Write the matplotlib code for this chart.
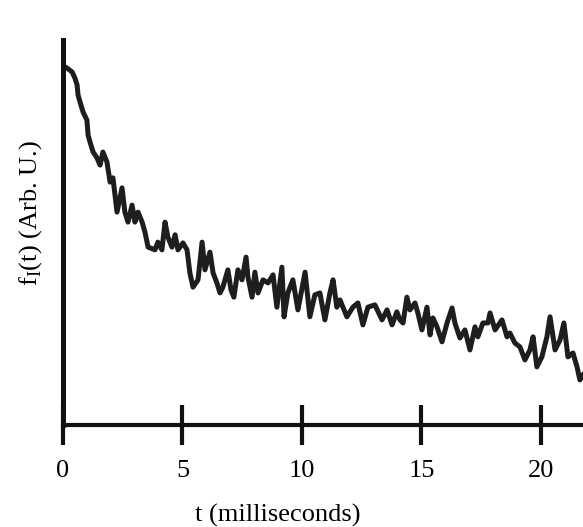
import matplotlib
matplotlib.use("Agg")
import matplotlib.pyplot as plt

# trace (t in ms, f in arbitrary units)
t_ms = [0.04, 0.17, 0.38, 0.50, 0.59, 0.63, 0.75, 0.84, 1.00, 1.05,
        1.13, 1.26, 1.42, 1.55, 1.67, 1.84, 1.97, 2.09, 2.26, 2.47,
        2.59, 2.72, 2.89, 3.01, 3.14, 3.31, 3.43, 3.56, 3.85, 3.97,
        4.14, 4.27, 4.39, 4.56, 4.69, 4.81, 5.02, 5.19, 5.31, 5.44,
        5.65, 5.82, 5.94, 6.15, 6.28, 6.44, 6.57, 6.69, 6.90, 7.03,
        7.15, 7.32, 7.49, 7.66, 7.74, 7.91, 8.03, 8.16, 8.37, 8.58,
        8.79, 8.95, 9.16, 9.25, 9.41, 9.62, 9.83, 10.13, 10.33, 10.54,
        10.75, 10.96, 11.17, 11.30, 11.46, 11.59, 11.88, 12.13, 12.34, 12.55,
        12.76, 13.05, 13.35, 13.56, 13.77, 13.97, 14.10, 14.23, 14.39, 14.52,
        14.73, 14.85, 15.02, 15.23, 15.36, 15.48, 15.65, 15.86, 16.07, 16.28,
        16.40, 16.61, 16.82, 17.03, 17.24, 17.36, 17.57, 17.78, 17.87, 18.08,
        18.37, 18.58, 18.70, 18.91, 19.12, 19.33, 19.54, 19.67, 19.83, 20.04,
        20.25, 20.38, 20.59, 20.80, 20.96, 21.13, 21.34, 21.51, 21.63, 21.76]
f_val = [9.32, 9.27, 9.17, 9.01, 8.83, 8.57, 8.31, 8.13, 7.92, 7.53,
         7.35, 7.09, 6.94, 6.75, 7.09, 6.83, 6.31, 6.42, 5.53, 6.16,
         5.53, 5.27, 5.71, 5.27, 5.53, 5.27, 5.01, 4.62, 4.55, 4.75,
         4.55, 5.27, 4.88, 4.62, 4.94, 4.55, 4.73, 4.55, 3.95, 3.58,
         3.77, 4.75, 4.03, 4.49, 3.95, 3.69, 3.43, 3.58, 4.03, 3.51,
         3.32, 4.03, 3.77, 4.36, 3.84, 3.32, 3.97, 3.43, 3.77, 3.69,
         3.90, 3.06, 4.10, 2.81, 3.43, 3.77, 2.99, 3.97, 2.81, 3.38,
         3.43, 2.73, 3.43, 3.77, 3.06, 3.25, 2.81, 3.06, 3.17, 2.60,
         3.06, 3.12, 2.73, 2.99, 2.60, 2.94, 2.73, 2.65, 3.32, 2.99,
         3.17, 2.91, 2.47, 3.06, 2.34, 2.78, 2.55, 2.16, 2.65, 3.04,
         2.65, 2.26, 2.47, 1.95, 2.55, 2.29, 2.65, 2.65, 2.91, 2.47,
         2.73, 2.29, 2.39, 2.13, 2.03, 1.69, 1.95, 2.29, 1.51, 1.77,
         2.29, 2.81, 1.95, 2.21, 2.65, 1.77, 1.87, 1.51, 1.17, 1.30]
x_ticks = [0, 5, 10, 15, 20]

plt.rcParams['font.family'] = ['Liberation Serif', 'DejaVu Serif']
plt.rcParams['mathtext.fontset'] = 'custom'
plt.rcParams['mathtext.rm'] = 'Liberation Serif'

fig = plt.figure(figsize=(5.83, 5.27), dpi=100)
ax = fig.add_axes([63 / 583, 102 / 527, 520 / 583, 385 / 527])

ax.plot(t_ms, f_val, color='#1e1e1e', linewidth=3.6, solid_joinstyle='round')

ax.set_xlim(0, 21.76)
ax.set_ylim(0, 10)
ax.spines['top'].set_visible(False)
ax.spines['right'].set_visible(False)
ax.spines['left'].set_linewidth(3.6)
ax.spines['bottom'].set_linewidth(3.0)
ax.spines['left'].set_color('#111111')
ax.spines['bottom'].set_color('#111111')

ax.set_xticks(x_ticks)
ax.set_xticklabels([str(v) for v in x_ticks])
ax.tick_params(axis='x', direction='inout', length=29, width=3.0,
               color='#111111', labelsize=19, pad=11)
ax.set_yticks([])

ax.set_xlabel('t (milliseconds)', fontsize=19)
ax.xaxis.set_label_coords((278 - 63) / 520, -0.205)
ax.set_ylabel(r'f$_{\mathrm{I}}$(t) (Arb. U.)', fontsize=19)
ax.yaxis.set_label_coords(-0.037, 0.55)

fig.savefig('out.png', dpi=100)
